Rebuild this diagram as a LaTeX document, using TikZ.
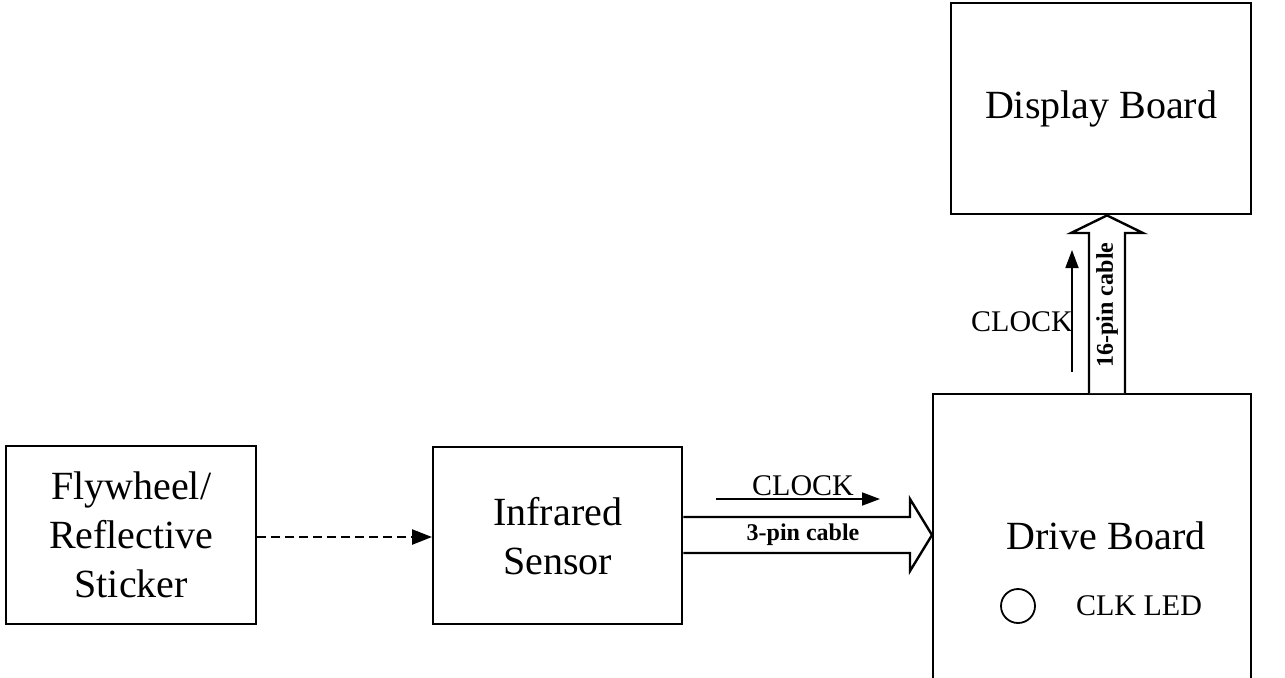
\documentclass[tikz,border=0pt]{standalone}
\usepackage{fontspec}
\setmainfont{Liberation Serif}
\usetikzlibrary{arrows.meta,calc}
\begin{document}
\begin{tikzpicture}[x=0.5pt,y=-0.5pt,
  blk/.style={draw,line width=1.2pt,inner sep=0pt,anchor=north west},
  big/.style={font=\fontsize{20}{24.5}\selectfont,align=center,inner sep=0pt},
  lbl/.style={font=\fontsize{15}{17}\selectfont,inner sep=0pt},
  cbl/.style={font=\bfseries\fontsize{12}{14}\selectfont,inner sep=0pt},
  sig/.style={line width=0.9pt,-{Triangle[length=9pt,width=6.5pt]}},
  fat/.style={line width=1.2pt,fill=white,line join=miter}]
\useasboundingbox (0,0) rectangle (1285,677);
\node[blk,minimum width=125pt,minimum height=89pt] (fly) at (5,445) {};
\node[big] (flyt) at (fly.center) {Flywheel/\\Reflective\\Sticker};
\node[blk,minimum width=124.5pt,minimum height=88.5pt] (ir) at (432,446) {};
\node[big] (irt) at (ir.center) {Infrared\\Sensor};
\node[blk,minimum width=159pt,minimum height=143pt] (drv) at (932,393) {};
\node[big] (drvt) at (1106,536) {Drive Board};
\node[blk,minimum width=150pt,minimum height=105.5pt] (disp) at (950,2) {};
\node[big] (dispt) at (disp.center) {Display Board};
% dashed arrow
\draw[line width=1.2pt,dash pattern=on 4.5pt off 2.5pt,-{Triangle[length=10pt,width=7.5pt]}] (fly.east |- 0,537) -- (ir.west |- 0,537);
% 3-pin cable
\coordinate (a1) at (ir.east |- 0,517);
\coordinate (a2) at (ir.east |- 0,553);
\coordinate (tip) at (drv.west |- 0,535);
\draw[fat] (a1) -- (910,517) -- (910,499) -- (tip) -- (910,571) -- (910,553) -- (a2);
\node[cbl] (c3) at (803,535) {3-pin cable};
\coordinate (ck1) at (716,499);
\coordinate (ck2) at (880,499);
\draw[sig] (ck1) -- (ck2);
\node[lbl] (ckl) at (803,486) {CLOCK};
% 16-pin cable
\coordinate (b1) at (1089,393);
\coordinate (b2) at (1125,393);
\coordinate (tip2) at (disp.south -| 1107,0);
\draw[fat] (b1) -- (1089,233) -- (1071,233) -- (tip2) -- (1143,233) -- (1125,233) -- (b2);
\node[cbl,rotate=90] (c16) at (1107,305) {16-pin cable};
\coordinate (v1) at (1072,372);
\coordinate (v2) at (1072,250);
\draw[sig] (v1) -- (v2);
\node[lbl] (vl) at (1022,322) {CLOCK};
% LED
\node[draw,circle,line width=0.9pt,minimum size=17pt,inner sep=0pt] (led) at (1018,606) {};
\node[lbl] (ledl) at (1139,606) {CLK LED};
\end{tikzpicture}
\end{document}
